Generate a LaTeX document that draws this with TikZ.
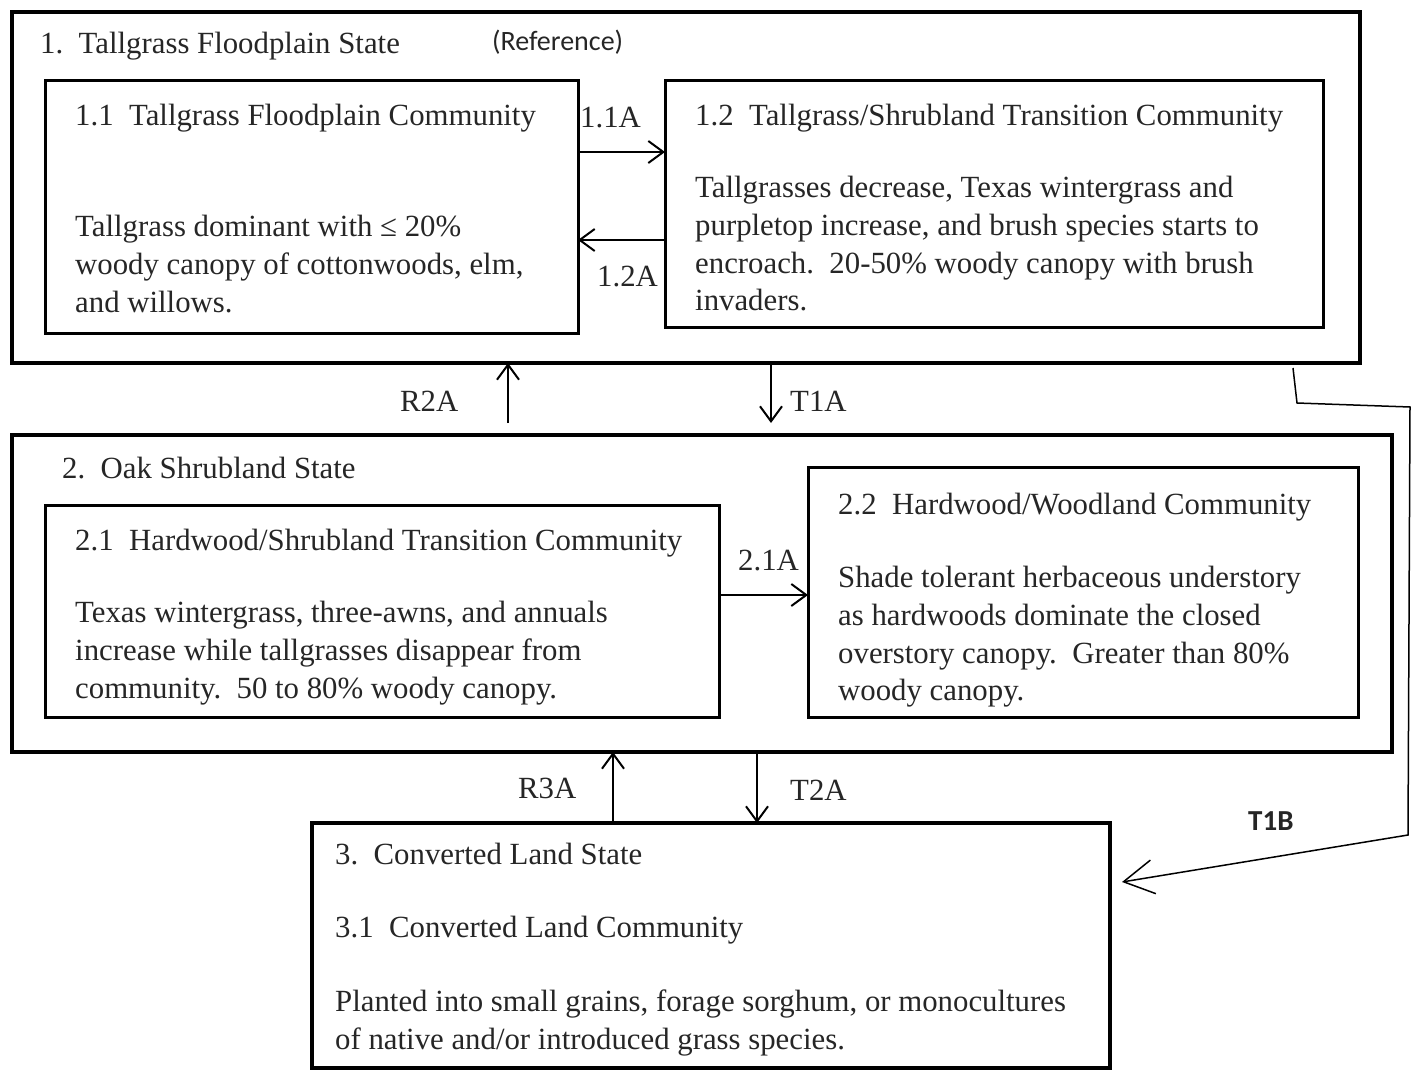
\documentclass[tikz,border=0pt]{standalone}
\usepackage{fontspec}
\setmainfont{Liberation Serif}
\newfontfamily\labelsans{Carlito}
\usetikzlibrary{arrows.meta}
\newcommand{\numgap}{\hspace{0.5em}}

\begin{document}
\begin{tikzpicture}[x=1pt,y=-1pt,font=\fontsize{30.8}{37.8}\selectfont,
	flow/.style={line width=2pt,-{Straight Barb[length=15pt,width=22pt,line width=2pt]}}]
	\useasboundingbox[fill=white] (0,0) rectangle (1417,1071);
	% states
	\begin{scope}[every node/.style={draw,line width=4.5pt,inner sep=0pt,outer sep=0pt,anchor=north west}]
		\node[minimum width=1348pt,minimum height=351pt] (s1) at (12,12) {};
		\node[minimum width=1380pt,minimum height=317pt] (s2) at (12,435) {};
		\node[minimum width=798pt,minimum height=245pt] (s3) at (312,823) {};
	\end{scope}
	% communities
	\begin{scope}[every node/.style={draw,line width=3pt,inner sep=0pt,outer sep=0pt,anchor=north west}]
		\node[minimum width=533pt,minimum height=253pt] (c11) at (45,80) {};
		\node[minimum width=658pt,minimum height=247pt] (c12) at (665,80) {};
		\node[minimum width=674pt,minimum height=212pt] (c21) at (45,505) {};
		\node[minimum width=550pt,minimum height=250pt] (c22) at (808,467) {};
	\end{scope}

	\begin{scope}[every node/.style={inner sep=0pt,anchor=north west,align=left,text=black!85}]
		\node (t1) at (40,32) {1.\numgap Tallgrass Floodplain State};
		\node[font=\labelsans\fontsize{28}{32}\selectfont,anchor=west] (ref) at (492,42) {(Reference)};
		\node (t11) at (75,104) {1.1\numgap Tallgrass Floodplain Community};
		\node (b11) at (75,215) {Tallgrass dominant with ≤ 20\%\\woody canopy of cottonwoods, elm,\\and willows.};
		\node (t12) at (695,104) {1.2\numgap Tallgrass/Shrubland Transition Community};
		\node (b12) at (695,176) {Tallgrasses decrease, Texas wintergrass and\\purpletop increase, and brush species starts to\\encroach.\ \ 20-50\% woody canopy with brush\\invaders.};
		\node (t2) at (62,457) {2.\numgap Oak Shrubland State};
		\node (t21) at (75,529) {2.1\numgap Hardwood/Shrubland Transition Community};
		\node (b21) at (75,601) {Texas wintergrass, three-awns, and annuals\\increase while tallgrasses disappear from\\community.\ \ 50 to 80\% woody canopy.};
		\node (t22) at (838,493) {2.2\numgap Hardwood/Woodland Community};
		\node (b22) at (838,566) {Shade tolerant herbaceous understory\\as hardwoods dominate the closed\\overstory canopy.\ \ Greater than 80\%\\woody canopy.};
		\node (t3) at (335,843) {3.\numgap Converted Land State};
		\node (t31) at (335,916) {3.1\numgap Converted Land Community};
		\node (b31) at (335,990) {Planted into small grains, forage sorghum, or monocultures\\of native and/or introduced grass species.};
	\end{scope}

	% transitions
	\begin{scope}[every node/.style={inner sep=0pt,anchor=west,text=black!85}]
		\node (l11a) at (580,118) {1.1A};
		\node (l12a) at (597,277) {1.2A};
		\node (lr2a) at (400,401) {R2A};
		\node (lt1a) at (790,401) {T1A};
		\node (l21a) at (738,561) {2.1A};
		\node (lr3a) at (518,788) {R3A};
		\node (lt2a) at (790,790) {T2A};
		\node[font=\labelsans\bfseries\fontsize{29}{32}\selectfont] (lt1b) at (1248,821) {T1B};
	\end{scope}

	\draw[flow] (c11.east |- 0,152) -- (c12.west |- 0,152);
	\draw[flow] (c12.west |- 0,240) -- (c11.east |- 0,240);
	\draw[flow,shorten <=12pt] (s2.north -| 508,0) -- (s1.south -| 508,0);
	\draw[flow,shorten >=12pt] (s1.south -| 771,0) -- (s2.north -| 771,0);
	\draw[flow] (c21.east |- 0,595) -- (c22.west |- 0,595);
	\draw[flow] (s3.north -| 613,0) -- (s2.south -| 613,0);
	\draw[flow] (s2.south -| 757,0) -- (s3.north -| 757,0);

	\coordinate (t1bfrom) at (1293,368);
	\coordinate (t1bto) at (1122,882);
	\draw[line width=1.5pt,-{Straight Barb[length=30pt,width=34pt,line width=1.5pt]}]
		(t1bfrom) -- (1297,403) -- (1410,407) -- (1408,835) -- (t1bto);
\end{tikzpicture}
\end{document}
